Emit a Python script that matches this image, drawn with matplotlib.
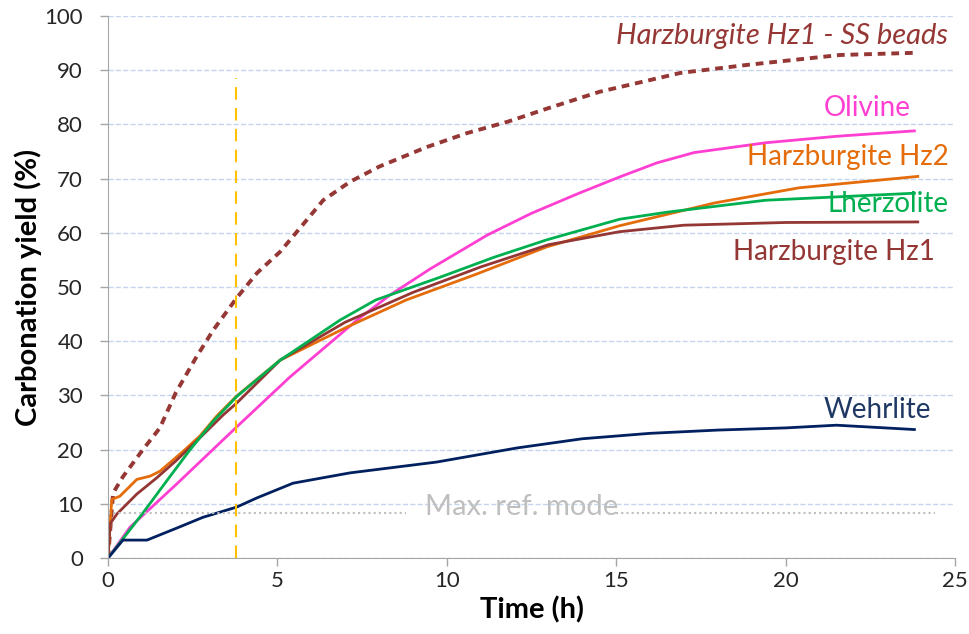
import matplotlib.pyplot as plt

plt.rcParams['font.family'] = ['Lato', 'DejaVu Sans']

# lectura aproximada de las curvas (tiempo en h, rendimiento en %)
t_ss = [0, 0.15, 0.44, 1.03, 1.53, 2.0, 2.6, 3.1, 3.8, 4.4, 5.08, 5.87, 6.35, 7.14,
        8.0, 9.4, 10.6, 11.8, 13.0, 14.5, 16.9, 18.9, 21.6, 23.8]
y_ss = [0, 12, 15, 20, 24, 30.5, 37, 42, 48, 52.6, 56.5, 62.4, 66, 69.4,
        72.2, 75.8, 78.4, 80.5, 83.0, 86.0, 89.5, 91, 92.8, 93.2]

t_oli = [0, 0.65, 2.0, 3.8, 5.37, 7.35, 8.32, 9.5, 11.2, 12.5, 13.9, 15.1, 16.2, 17.3, 19.4, 21.5, 23.8]
y_oli = [0, 5.7, 13.5, 24.2, 33.4, 43.9, 48.5, 53.3, 59.6, 63.6, 67.3, 70.3, 72.9, 74.8, 76.6, 77.8, 78.8]

t_hz2 = [0, 0.11, 0.35, 0.85, 1.24, 1.53, 1.83, 2.22, 2.71, 3.21, 3.8, 5.08, 7.05, 8.8,
         10.8, 12.95, 15.1, 17.9, 20.4, 23.9]
y_hz2 = [0, 10.8, 11.4, 14.5, 15.1, 16, 17.6, 19.7, 22.5, 26.2, 29.9, 36.5, 42.6, 47.6,
         52.2, 57.4, 61.3, 65.5, 68.3, 70.4]

t_hz1 = [0, 0.06, 0.26, 0.85, 1.44, 2.0, 2.7, 3.4, 3.8, 5.08, 7.0, 9.0, 11.0, 13.0,
         15.1, 17.0, 20.0, 23.9]
y_hz1 = [0, 6.3, 8.1, 11.8, 14.8, 17.9, 22.1, 26.4, 28.6, 36.5, 43.5, 49, 53.7, 57.8,
         60.2, 61.4, 61.9, 62]

t_lhz = [0, 1.03, 1.8, 2.4, 3.1, 3.8, 5.08, 6.85, 7.9, 9.8, 11.4, 12.95, 15.1, 16.5, 19.4, 23.8]
y_lhz = [0, 8.3, 14.8, 19.8, 25.2, 29.8, 36.5, 43.9, 47.6, 51.8, 55.5, 58.7, 62.5, 63.8, 66, 67.3]

t_weh = [0, 0.44, 1.15, 2.1, 2.8, 3.8, 4.4, 5.46, 7.14, 9.7, 12.07, 14.0, 16.0, 18.0,
         20.0, 21.5, 23.8]
y_weh = [0, 3.3, 3.3, 5.7, 7.5, 9.4, 11.1, 13.8, 15.7, 17.7, 20.3, 22, 23, 23.6,
         24, 24.5, 23.7]

t_inicio = 3.78
y_ref = 8.3

fig = plt.figure(figsize=(9.69, 6.34), dpi=100)
ax = fig.add_axes([0.1115, 0.1199, 0.8741, 0.8549])

ax.plot(t_ss, y_ss, color='#953735', lw=2.8, linestyle=(0, (2.0, 1.5)))
ax.plot(t_oli, y_oli, color='#FF3FD2', lw=2)
ax.plot(t_hz2, y_hz2, color='#E46C0A', lw=2)
ax.plot(t_hz1, y_hz1, color='#943634', lw=2)
ax.plot(t_lhz, y_lhz, color='#00B050', lw=2)
ax.plot(t_weh, y_weh, color='#002060', lw=2)

# linea vertical y modo de referencia
ax.plot([t_inicio, t_inicio], [0, 88.5], color='#FFC000', lw=1.5, linestyle=(0, (6, 4)))
ax.plot([0, 8.8], [y_ref, y_ref], color='#BFBFBF', lw=1.5, linestyle=(0, (1, 1.5)))
ax.plot([15.0, 24.4], [y_ref, y_ref], color='#BFBFBF', lw=1.5, linestyle=(0, (1, 1.5)))
ax.text(12.2, 9.4, 'Max. ref. mode', color='#BFBFBF', fontsize=21, ha='center', va='center')

# etiquetas de las series
fs = 20
ax.text(24.8, 96.3, 'Harzburgite Hz1 - SS beads', color='#953735', fontsize=21,
        style='italic', ha='right', va='center')
ax.text(23.7, 83.0, 'Olivine', color='#FF3FD2', fontsize=fs, ha='right', va='center')
ax.text(24.8, 74.0, 'Harzburgite Hz2', color='#E46C0A', fontsize=fs, ha='right', va='center')
ax.text(24.8, 65.3, 'Lherzolite', color='#00B050', fontsize=fs, ha='right', va='center')
ax.text(24.4, 56.5, 'Harzburgite Hz1', color='#943634', fontsize=fs, ha='right', va='center')
ax.text(24.3, 27.3, 'Wehrlite', color='#1F3864', fontsize=fs, ha='right', va='center')

ax.set_xlim(0, 25)
ax.set_ylim(0, 100)
ax.set_xticks(range(0, 26, 5))
ax.set_yticks(range(0, 101, 10))
ax.tick_params(labelsize=16, colors='#A6A6A6', labelcolor='#262626', length=6, width=1)
ax.tick_params(axis='y', pad=12)
ax.grid(axis='y', color='#C6D5EE', linestyle='--', lw=1)
ax.set_axisbelow(True)
for lado in ['top', 'right']:
    ax.spines[lado].set_visible(False)
for lado in ['left', 'bottom']:
    ax.spines[lado].set_color('#A6A6A6')

ax.set_xlabel('Time (h)', fontsize=21, fontweight='bold', labelpad=4)
ax.set_ylabel('Carbonation yield (%)', fontsize=21, fontweight='bold')
ax.yaxis.set_label_coords(-0.078, 0.5)

plt.savefig('out.png', dpi=100)
